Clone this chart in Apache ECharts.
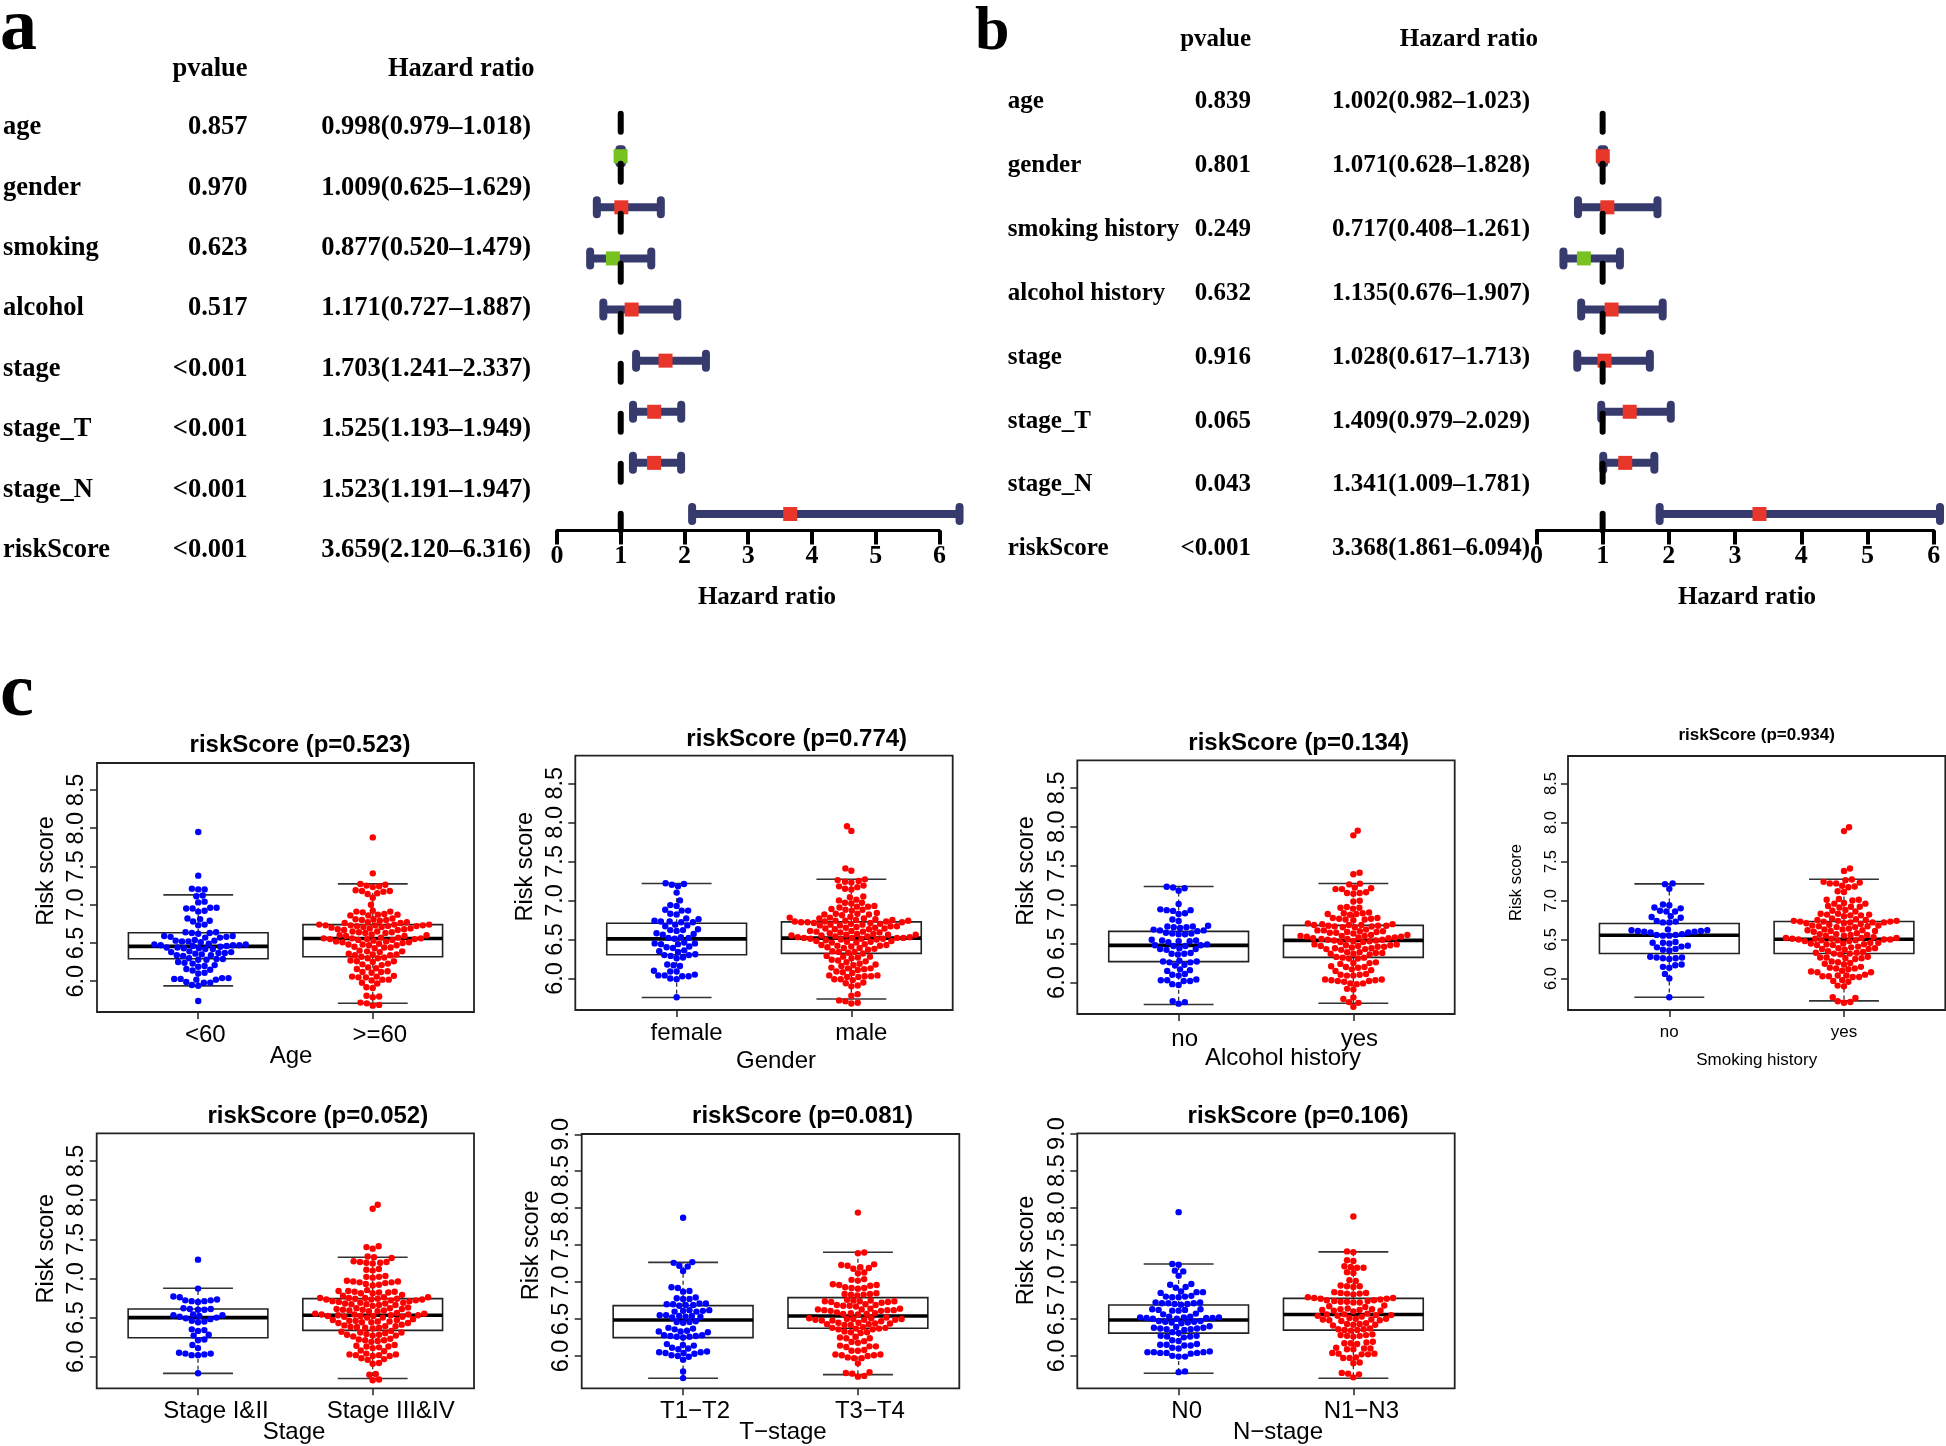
<!DOCTYPE html>
<html><head><meta charset="utf-8">
<script src="https://cdn.jsdelivr.net/npm/echarts@6/dist/echarts.min.js"></script>
<style>html,body{margin:0;padding:0;background:#fff}#c{width:1946px;height:1446px}</style>
</head><body><div id="c"></div><script>
// ---------------- DATA ----------------
// Forest plot a (univariate)
const varsA = ['age','gender','smoking','alcohol','stage','stage_T','stage_N','riskScore'];
const pvalA = ['0.857','0.970','0.623','0.517','<0.001','<0.001','<0.001','<0.001'];
const hrA = [0.998, 1.009, 0.877, 1.171, 1.703, 1.525, 1.523, 3.659];
const loA = [0.979, 0.625, 0.520, 0.727, 1.241, 1.193, 1.191, 2.120];
const hiA = [1.018, 1.629, 1.479, 1.887, 2.337, 1.949, 1.947, 6.316];
// Forest plot b (multivariate)
const varsB = ['age','gender','smoking history','alcohol history','stage','stage_T','stage_N','riskScore'];
const pvalB = ['0.839','0.801','0.249','0.632','0.916','0.065','0.043','<0.001'];
const hrB = [1.002, 1.071, 0.717, 1.135, 1.028, 1.409, 1.341, 3.368];
const loB = [0.982, 0.628, 0.408, 0.676, 0.617, 0.979, 1.009, 1.861];
const hiB = [1.023, 1.828, 1.261, 1.907, 1.713, 2.029, 1.781, 6.094];
const forestTicks = [0, 1, 2, 3, 4, 5, 6];

// Box plots
const boxTitles = ['riskScore (p=0.523)','riskScore (p=0.774)','riskScore (p=0.134)','riskScore (p=0.934)','riskScore (p=0.052)','riskScore (p=0.081)','riskScore (p=0.106)'];
const boxXNames = ['Age','Gender','Alcohol history','Smoking history','Stage','T\u2212stage','N\u2212stage'];
const boxCats = [['<60','>=60'],['female','male'],['no','yes'],['no','yes'],['Stage I&II','Stage III&IV'],['T1\u2212T2','T3\u2212T4'],['N0','N1\u2212N3']];
const yTicksShort = [6.0, 6.5, 7.0, 7.5, 8.0, 8.5];
const yTicksLong = [6.0, 6.5, 7.0, 7.5, 8.0, 8.5, 9.0];
// [lower whisker, Q1, median, Q3, upper whisker] per group
const statsAge = [[5.939,6.293,6.455,6.634,7.128],[5.712,6.319,6.559,6.739,7.272]];
const statsGender = [[5.758,6.305,6.508,6.708,7.216],[5.737,6.322,6.517,6.725,7.271]];
const statsAlcohol = [[5.718,6.269,6.478,6.657,7.233],[5.735,6.324,6.542,6.734,7.271]];
const statsSmoking = [[5.761,6.321,6.556,6.705,7.214],[5.714,6.321,6.504,6.731,7.274]];
const statsStage = [[5.787,6.243,6.499,6.610,6.875],[5.723,6.337,6.529,6.742,7.271]];
const statsT = [[5.698,6.248,6.487,6.681,7.267],[5.747,6.374,6.541,6.789,7.403]];
const statsN = [[5.765,6.307,6.483,6.686,7.240],[5.698,6.347,6.559,6.776,7.403]];

const ageLow = [7.95,7.38,7.21,7.20,7.20,7.12,7.11,7.04,7.03,6.96,6.96,6.95,6.95,6.92,6.91,6.82,6.81,6.79,6.78,6.74,6.73,
6.64,6.64,6.63,6.63,6.62,6.59,6.59,6.58,6.58,6.57,6.57,6.54,6.53,6.53,6.52,6.52,6.51,
6.49,6.48,6.48,6.47,6.47,6.47,6.46,6.46,6.45,6.44,6.44,6.43,6.43,6.42,6.42,
6.39,6.38,6.38,6.37,6.37,6.36,6.35,6.34,6.34,6.33,6.30,6.29,6.29,6.28,6.28,
6.25,6.24,6.23,6.21,6.20,6.19,6.16,6.15,6.14,6.11,6.10,6.04,6.04,6.03,6.03,6.02,6.02,5.99,5.98,5.98,5.95,5.94,5.74];
const ageHigh = [7.88,7.41,7.27,7.26,7.25,7.24,7.23,7.19,7.18,7.18,7.17,7.15,7.14,7.09,7.00,
6.92,6.91,6.91,6.90,6.88,6.87,6.87,6.86,6.86,6.82,6.81,6.81,6.80,6.80,6.79,6.77,6.77,6.76,6.76,
6.74,6.74,6.74,6.73,6.73,6.73,6.73,6.72,6.72,6.72,6.71,6.71,6.70,6.69,6.69,6.68,6.68,6.67,6.67,
6.65,6.65,6.64,6.64,6.63,6.63,6.61,6.60,6.60,6.59,6.59,
6.57,6.57,6.56,6.56,6.56,6.55,6.55,6.55,6.54,6.54,6.53,6.52,6.52,6.51,6.51,6.50,
6.49,6.48,6.48,6.47,6.47,6.45,6.44,6.44,6.43,6.40,6.39,6.39,6.38,6.36,6.35,6.35,6.34,6.34,
6.32,6.31,6.30,6.30,6.27,6.26,6.26,6.25,6.23,6.22,6.21,6.18,6.17,6.16,6.13,6.12,6.12,6.11,
6.07,6.06,6.06,6.05,6.05,6.02,6.02,6.01,5.98,5.97,5.92,5.91,5.81,5.80,5.79,5.72,5.71,5.69,5.68];
const genFemale = [7.22,7.21,7.20,7.18,7.10,7.00,6.94,6.93,6.88,6.87,6.87,6.83,6.82,6.77,6.76,
6.74,6.73,6.73,6.72,6.72,6.69,6.68,6.67,6.63,6.62,6.62,6.61,6.58,6.57,6.56,6.53,6.52,6.52,6.51,
6.46,6.45,6.45,6.44,6.44,6.41,6.40,6.39,6.36,6.35,6.34,6.31,6.30,6.30,6.29,6.27,6.26,
6.18,6.17,6.16,6.10,6.09,6.09,6.05,6.04,6.04,6.03,6.03,6.00,5.99,5.76];
const genMale = [7.95,7.89,7.41,7.38,7.27,7.26,7.25,7.24,7.23,7.19,7.18,7.17,7.15,7.14,7.05,7.04,7.01,7.00,
6.97,6.97,6.96,6.93,6.92,6.92,6.91,6.89,6.88,6.88,6.87,6.84,6.83,6.83,6.82,6.82,6.81,6.79,6.78,6.78,6.77,6.77,6.76,
6.75,6.75,6.74,6.74,6.74,6.73,6.73,6.73,6.72,6.72,6.72,6.71,6.71,6.70,6.70,6.69,6.69,6.68,6.68,6.67,6.67,
6.66,6.65,6.65,6.64,6.64,6.63,6.63,6.61,6.61,6.60,6.60,6.59,6.59,6.58,
6.57,6.57,6.56,6.56,6.56,6.55,6.55,6.54,6.54,6.53,6.53,6.52,6.52,6.52,6.52,6.51,6.51,6.51,6.50,6.50,
6.49,6.48,6.48,6.47,6.47,6.46,6.46,6.44,6.43,6.43,6.42,6.42,6.41,6.40,6.39,6.39,6.38,6.37,
6.35,6.34,6.34,6.33,6.32,6.29,6.28,6.28,6.27,6.26,6.24,6.23,6.22,6.21,6.19,6.18,6.17,6.16,
6.14,6.13,6.13,6.12,6.11,6.09,6.08,6.07,6.04,6.04,6.03,6.03,6.02,6.02,5.99,5.99,5.98,5.95,5.94,5.91,5.90,
5.80,5.78,5.72,5.71,5.69,5.68];
const alcNo = [7.23,7.22,7.21,7.18,7.01,6.94,6.93,6.93,6.92,6.89,6.88,6.81,6.79,
6.73,6.72,6.72,6.71,6.71,6.70,6.68,6.67,6.67,6.66,6.64,6.63,6.63,6.62,6.62,
6.55,6.54,6.54,6.53,6.53,6.52,6.49,6.48,6.48,6.47,6.47,6.44,6.43,6.43,6.42,6.38,6.37,6.37,6.36,
6.28,6.27,6.27,6.26,6.26,6.23,6.22,6.17,6.16,6.15,6.11,6.10,6.09,6.04,6.03,6.03,6.02,6.02,5.98,5.97,5.76,5.75,5.73];
const alcYes = [7.95,7.89,7.41,7.39,7.27,7.26,7.22,7.21,7.20,7.20,7.16,7.15,7.15,7.14,7.05,7.04,
6.97,6.96,6.96,6.95,6.90,6.89,6.89,6.88,6.88,6.87,6.83,6.83,6.82,6.82,6.81,6.81,6.80,
6.76,6.75,6.75,6.74,6.74,6.74,6.73,6.73,6.73,6.72,6.72,6.71,6.71,
6.68,6.67,6.67,6.66,6.66,6.65,6.65,6.64,6.64,6.63,6.61,6.61,6.60,6.60,6.60,6.59,6.59,6.58,6.58,6.57,6.57,
6.56,6.56,6.55,6.55,6.54,6.54,6.53,6.53,6.52,6.52,6.49,6.49,6.48,6.48,6.47,6.47,6.46,6.46,
6.45,6.44,6.44,6.43,6.43,6.42,6.39,6.39,6.38,6.38,6.37,6.37,6.36,6.33,6.32,6.32,6.31,6.31,
6.26,6.25,6.25,6.24,6.21,6.20,6.20,6.19,6.17,6.16,6.15,6.11,6.10,6.10,6.09,6.09,
6.04,6.04,6.03,6.03,6.02,6.02,6.01,5.99,5.99,5.98,5.92,5.91,5.81,5.79,5.75,5.74,5.69];
const smkNo = [7.22,7.21,7.15,6.95,6.94,6.91,6.90,6.87,6.86,6.86,6.80,6.79,6.78,6.74,6.73,6.72,6.72,
6.63,6.62,6.62,6.61,6.61,6.60,6.60,6.59,6.59,6.57,6.56,6.56,6.55,6.55,6.47,6.46,6.46,6.45,
6.42,6.41,6.40,6.38,6.37,6.36,6.28,6.27,6.27,6.26,6.26,6.25,6.18,6.17,6.15,6.14,6.06,6.00,5.76];
const smkYes = [7.94,7.89,7.41,7.38,7.27,7.26,7.24,7.23,7.22,7.22,7.19,7.18,7.17,7.12,7.11,7.02,7.01,7.01,7.00,
6.97,6.96,6.96,6.93,6.92,6.92,6.91,6.88,6.87,6.86,6.83,6.83,6.82,6.82,6.81,6.81,6.80,6.77,6.76,
6.75,6.75,6.74,6.74,6.74,6.73,6.73,6.73,6.72,6.72,6.72,6.71,6.71,6.70,6.69,6.68,6.68,6.67,6.67,6.66,6.66,
6.64,6.63,6.63,6.62,6.62,6.61,6.61,6.60,6.58,6.57,6.57,6.56,6.56,6.55,6.55,
6.53,6.52,6.52,6.52,6.51,6.51,6.51,6.50,6.50,6.50,6.49,6.49,6.49,6.48,6.48,
6.46,6.46,6.45,6.45,6.44,6.44,6.43,6.43,6.41,6.40,6.39,6.39,6.38,6.38,6.37,
6.35,6.34,6.33,6.33,6.32,6.32,6.31,6.28,6.27,6.27,6.26,6.26,6.25,6.22,6.21,6.20,6.19,6.18,
6.15,6.14,6.13,6.13,6.12,6.10,6.09,6.08,6.08,6.05,6.04,6.04,6.03,6.03,6.02,6.02,5.98,5.97,5.96,5.91,5.90,
5.76,5.75,5.71,5.70,5.69];
const stgLow = [7.24,6.87,6.77,6.76,6.73,6.72,6.72,6.71,6.71,6.70,6.62,6.61,6.61,6.60,6.60,
6.54,6.53,6.53,6.52,6.51,6.50,6.49,6.48,6.46,6.45,6.44,6.35,6.34,6.33,6.28,6.27,6.22,6.21,6.15,6.11,
6.05,6.04,6.04,6.03,6.02,6.02,5.79];
const stgHigh = [7.94,7.89,7.41,7.40,7.38,7.28,7.27,7.26,7.22,7.21,7.21,7.20,7.20,7.19,7.12,7.11,7.10,
7.03,7.02,7.02,7.01,6.97,6.96,6.96,6.95,6.95,6.94,6.93,6.92,6.91,
6.85,6.84,6.84,6.83,6.83,6.82,6.82,6.81,6.81,6.79,6.78,
6.76,6.76,6.75,6.75,6.75,6.74,6.74,6.74,6.73,6.73,6.73,6.72,6.72,6.71,6.71,6.70,
6.69,6.69,6.68,6.68,6.67,6.67,6.66,6.66,6.65,6.63,6.62,6.62,6.61,6.61,6.60,6.60,6.59,6.59,6.58,6.58,
6.56,6.55,6.55,6.54,6.54,6.54,6.53,6.53,6.53,6.52,6.52,6.52,6.51,6.51,6.50,6.50,
6.48,6.47,6.47,6.46,6.46,6.45,6.45,6.44,6.44,6.43,6.43,6.41,6.40,6.39,6.39,6.38,6.38,6.37,6.37,6.36,
6.33,6.32,6.31,6.31,6.30,6.29,6.28,6.28,6.27,6.27,6.26,6.23,6.22,6.21,6.21,6.20,6.19,
6.15,6.14,6.13,6.13,6.12,6.11,6.08,6.07,6.04,6.03,6.03,6.02,6.02,6.01,6.01,5.98,5.97,5.96,5.92,5.91,
5.78,5.77,5.71,5.70];
const tLow = [7.87,7.27,7.26,7.22,7.21,7.15,6.93,6.92,6.88,6.87,6.79,6.78,6.77,6.77,
6.71,6.71,6.70,6.70,6.69,6.69,6.68,6.62,6.62,6.61,6.61,6.60,6.60,6.55,6.55,6.54,6.54,6.53,6.53,6.52,
6.47,6.46,6.46,6.45,6.38,6.37,6.36,6.34,6.33,6.33,6.32,6.28,6.28,6.27,6.27,6.26,6.26,6.25,
6.16,6.15,6.14,6.11,6.10,6.09,6.06,6.05,6.05,6.04,6.04,6.03,6.01,6.00,5.99,5.95,5.79,5.70];
const tHigh = [7.94,7.40,7.39,7.24,7.23,7.22,7.20,7.19,7.18,7.13,7.12,7.04,7.03,7.02,
6.97,6.96,6.96,6.95,6.93,6.92,6.92,6.91,6.85,6.84,6.84,6.83,6.83,6.82,
6.76,6.75,6.75,6.74,6.74,6.74,6.73,6.73,6.72,6.70,6.69,6.69,6.68,6.68,6.67,
6.64,6.64,6.63,6.63,6.62,6.62,6.62,6.61,6.61,6.59,6.58,6.58,6.57,6.57,6.56,
6.52,6.51,6.51,6.50,6.50,6.50,6.49,6.49,6.49,6.48,6.48,6.47,6.45,6.45,6.44,6.44,6.43,6.43,6.42,6.42,
6.39,6.38,6.38,6.37,6.37,6.36,6.36,6.33,6.32,6.32,6.31,6.26,6.25,6.24,6.24,6.20,6.19,6.18,
6.14,6.13,6.13,6.12,6.08,6.07,6.07,6.02,6.02,6.01,6.01,6.00,5.98,5.97,5.97,5.90,5.78,5.77,5.76,5.73,5.72];
const nLow = [7.94,7.24,7.23,7.15,7.14,7.08,6.97,6.96,6.93,6.92,6.87,6.86,6.86,6.85,6.81,6.80,6.80,6.79,6.79,
6.72,6.72,6.71,6.71,6.71,6.70,6.70,6.69,6.63,6.63,6.62,6.62,6.61,6.61,6.57,6.56,
6.53,6.53,6.52,6.52,6.52,6.51,6.51,6.51,6.50,6.50,6.47,6.47,6.46,6.46,6.45,6.45,6.44,
6.40,6.39,6.38,6.38,6.37,6.37,6.36,6.36,6.35,6.32,6.31,6.27,6.27,6.26,6.26,6.25,6.21,6.20,
6.16,6.15,6.15,6.14,6.14,6.11,6.10,6.06,6.05,6.05,6.05,6.04,6.04,6.04,6.03,6.00,5.99,5.99,5.79,5.78];
const nHigh = [7.88,7.41,7.40,7.29,7.28,7.21,7.20,7.19,7.19,7.13,7.12,7.02,7.01,6.95,6.94,6.94,6.93,
6.86,6.85,6.85,6.84,6.84,6.83,6.79,6.78,6.78,6.77,6.77,6.76,6.75,6.75,6.74,6.74,6.73,6.73,6.72,6.72,
6.68,6.67,6.66,6.64,6.63,6.63,6.62,6.62,6.61,6.61,6.60,6.57,6.56,6.56,6.55,6.55,6.54,6.54,6.53,
6.51,6.50,6.50,6.49,6.49,6.48,6.48,6.47,6.44,6.43,6.43,6.42,6.42,6.41,6.37,6.36,6.36,6.35,6.35,6.34,
6.29,6.28,6.28,6.27,6.27,6.26,6.19,6.18,6.17,6.17,6.16,6.11,6.10,6.10,6.09,6.09,
6.04,6.03,6.03,6.02,6.02,5.98,5.97,5.97,5.91,5.90,5.77,5.76,5.75,5.71];

const boxStats = [statsAge, statsGender, statsAlcohol, statsSmoking, statsStage, statsT, statsN];
const boxValues = [[ageLow, ageHigh],[genFemale, genMale],[alcNo, alcYes],[smkNo, smkYes],[stgLow, stgHigh],[tLow, tHigh],[nLow, nHigh]];

// ---------------- LAYOUT ----------------
const SANS = '"Liberation Sans", Arial, Helvetica, sans-serif';
const SERIF = '"Liberation Serif", "Times New Roman", serif';
const boxLayout = [
  {left:97,   top:763,    width:377,   height:249,   ymin:5.597, ymax:8.853, fs:24, ts:24, tx:300,    ty:745,    yx:47,    yy:871,    xx:291,    xy:1056,   lm:11,   sh:7},
  {left:575.3,top:755.7,  width:377.4, height:254.3, ymin:5.597, ymax:8.853, fs:24, ts:24, tx:796.7,  ty:739.3,  yx:526,   yy:866.7,  xx:776,    xy:1061.7, lm:11,   sh:10},
  {left:1077.3,top:760.3, width:377.4, height:253.7, ymin:5.597, ymax:8.853, fs:24, ts:24, tx:1298.7, ty:743.3,  yx:1026.7,yy:871,    xx:1283,   xy:1058.3, lm:13,   sh:6},
  {left:1568, top:756,    width:377.3, height:254,   ymin:5.597, ymax:8.853, fs:17, ts:17, tx:1756.7, ty:735,    yx:1516,  yy:882.5,  xx:1756.7, xy:1060,   lm:13.5, sh:0},
  {left:96.7, top:1133.3, width:377.3, height:255,   ymin:5.597, ymax:8.853, fs:24, ts:24, tx:317.8,  ty:1116.7, yx:46.7,  yy:1248.7, xx:294,    xy:1432.7, lm:11.4, sh:18},
  {left:581.7,top:1134,   width:377.6, height:254.3, ymin:5.562, ymax:9.004, fs:24, ts:24, tx:802.5,  ty:1116.7, yx:531.7, yy:1245.3, xx:783,    xy:1432.7, lm:11.4, sh:12},
  {left:1077.3,top:1133.3,width:377.4, height:255,   ymin:5.562, ymax:9.004, fs:24, ts:24, tx:1298,   ty:1116.7, yx:1026.7,yy:1250.5, xx:1278,   xy:1432.7, lm:11.4, sh:8}
];
const XMIN = 0.42, XMAX = 2.58;
const DOT = 6.4;

function swarmOffsets(vals, pxY, d) {
  const order = vals.map((v, i) => i).sort((a, b) => vals[a] - vals[b]);
  const placed = [];
  const out = new Array(vals.length);
  let flip = 1;
  for (const i of order) {
    const y = vals[i] * pxY;
    const near = placed.filter(p => Math.abs(p.y - y) < d);
    const cands = [0];
    for (const p of near) {
      const dx = Math.sqrt(d * d - (p.y - y) * (p.y - y));
      cands.push(p.x + dx, p.x - dx);
    }
    cands.sort((a, b) => (Math.abs(a) - Math.abs(b)) || (a - b) * flip);
    let chosen = 0;
    for (const c of cands) {
      if (near.every(p => (p.x - c) * (p.x - c) + (p.y - y) * (p.y - y) >= d * d - 0.01)) { chosen = c; break; }
    }
    flip = -flip;
    placed.push({x: chosen, y: y});
    out[i] = chosen;
  }
  return out;
}

function txt(text, x, y, font, align, valign, rot) {
  return {type: 'text', x: x, y: y, rotation: rot || 0, silent: true,
    style: {text: text, font: font, fill: '#000', align: align, verticalAlign: valign, textAlign: align, textVerticalAlign: valign}};
}

const grids = [], xAxes = [], yAxes = [], series = [], graphics = [];

// ---------- Forest plots ----------
const forestCfg = [
  {vars: varsA, p: pvalA, hr: hrA, lo: loA, hi: hiA, left: 557, width: 382.4, fs: 26.5,
   labX: 3, pX: 247.5, hrX: 531, rowY0: 127.3, rowDy: 60.44, hdrY: 69, hdrPX: 247.5, hdrHX: 534.4, xlabX: 767,
   letter: 'a', letX: 0, letY: 30.2, letFs: 74},
  {vars: varsB, p: pvalB, hr: hrB, lo: loB, hi: hiB, left: 1536.4, width: 397.4, fs: 25,
   labX: 1007.7, pX: 1251, hrX: 1530, rowY0: 102, rowDy: 63.83, hdrY: 40, hdrPX: 1251, hdrHX: 1538, xlabX: 1747,
   letter: 'b', letX: 975, letY: 33, letFs: 62}
];
const FY0 = 0.675, FY1 = 8.89;
forestCfg.forEach((f, gi) => {
  grids.push({left: f.left, top: 110.7, width: f.width, height: 419.9, show: false, outerBoundsMode: 'none'});
  xAxes.push({gridIndex: gi, type: 'value', min: 0, max: 6, interval: 1,
    axisLine: {show: true, lineStyle: {color: '#000', width: 3}},
    axisTick: {show: true, length: 14, lineStyle: {color: '#000', width: 4}},
    axisLabel: {show: true, margin: 13, color: '#000', fontFamily: SERIF, fontWeight: 'bold', fontSize: 26},
    splitLine: {show: false}});
  yAxes.push({gridIndex: gi, type: 'value', min: FY0, max: FY1, show: false});
  const n = f.vars.length;
  series.push({type: 'line', xAxisIndex: gi, yAxisIndex: gi, symbol: 'none', silent: true, z: 3,
    data: [[1, FY1 - 0.06], [1, FY0]],
    lineStyle: {color: '#000', width: 6, type: [18, 32], cap: 'round'}});
  series.push({type: 'custom', xAxisIndex: gi, yAxisIndex: gi, z: 2, silent: true, clip: false,
    encode: {x: [1, 2, 3], y: 0},
    data: f.vars.map((v, i) => [n - i, f.hr[i], f.lo[i], f.hi[i]]),
    renderItem: function (params, api) {
      const y = api.value(0), hr = api.value(1), lo = api.value(2), hi = api.value(3);
      const a = api.coord([lo, y]), b = api.coord([hi, y]), c = api.coord([hr, y]);
      const navy = '#363a6c';
      return {type: 'group', children: [
        {type: 'line', shape: {x1: a[0], y1: a[1], x2: b[0], y2: b[1]}, style: {stroke: navy, lineWidth: 8, lineCap: 'butt'}},
        {type: 'line', shape: {x1: a[0], y1: a[1] - 7, x2: a[0], y2: a[1] + 7}, style: {stroke: navy, lineWidth: 8, lineCap: 'round'}},
        {type: 'line', shape: {x1: b[0], y1: b[1] - 7, x2: b[0], y2: b[1] + 7}, style: {stroke: navy, lineWidth: 8, lineCap: 'round'}},
        {type: 'rect', z2: 10, shape: {x: c[0] - 7, y: c[1] - 7, width: 14, height: 14}, style: {fill: hr > 1 ? '#e8362a' : '#77c21f'}}
      ]};
    }});
  const font = 'bold ' + f.fs + 'px ' + SERIF;
  graphics.push(txt('pvalue', f.hdrPX, f.hdrY, font, 'right', 'middle'));
  graphics.push(txt('Hazard ratio', f.hdrHX, f.hdrY, font, 'right', 'middle'));
  f.vars.forEach((v, i) => {
    const y = f.rowY0 + i * f.rowDy;
    graphics.push(txt(v, f.labX, y, font, 'left', 'middle'));
    graphics.push(txt(f.p[i], f.pX, y, font, 'right', 'middle'));
    graphics.push(txt(f.hr[i].toFixed(3) + '(' + f.lo[i].toFixed(3) + '\u2013' + f.hi[i].toFixed(3) + ')', f.hrX, y, font, 'right', 'middle'));
  });
  graphics.push(txt('Hazard ratio', f.xlabX, 598, 'bold 25px ' + SERIF, 'center', 'middle'));
  graphics.push(txt(f.letter, f.letX, f.letY, 'bold ' + f.letFs + 'px ' + SERIF, 'left', 'middle'));
});
graphics.push(txt('c', 0, 695, 'bold 76px ' + SERIF, 'left', 'middle'));

// ---------- Box plots ----------
boxLayout.forEach((L, k) => {
  const gi = 2 + k;
  grids.push({left: L.left, top: L.top, width: L.width, height: L.height, show: true,
    borderColor: '#222', borderWidth: 1.8, backgroundColor: 'transparent', outerBoundsMode: 'none'});
  const cats = boxCats[k];
  xAxes.push({gridIndex: gi, type: 'value', min: XMIN, max: XMAX,
    axisLine: {show: false},
    axisTick: {show: true, customValues: [1, 2], length: 7, lineStyle: {color: '#222', width: 1.5}},
    axisLabel: {show: true, customValues: [1, 2], margin: L.lm, color: '#000', fontFamily: SANS, fontSize: L.fs,
      padding: [0, 0, 0, 2 * L.sh], formatter: v => cats[Math.round(v) - 1]},
    splitLine: {show: false}});
  const ticks = L.ymax > 9 ? yTicksLong : yTicksShort;
  yAxes.push({gridIndex: gi, type: 'value', min: L.ymin, max: L.ymax,
    axisLine: {show: false},
    axisTick: {show: true, customValues: ticks, length: 7, lineStyle: {color: '#222', width: 1.5}},
    axisLabel: {show: true, customValues: ticks, rotate: 90, margin: 8, color: '#000', fontFamily: SANS, fontSize: L.fs - 0.5,
      formatter: v => Number(v).toFixed(1)},
    splitLine: {show: false}});
  const st = boxStats[k];
  series.push({type: 'custom', xAxisIndex: gi, yAxisIndex: gi, z: 2, silent: true,
    encode: {x: 0, y: [1, 2, 3, 4, 5]},
    data: st.map((s, i) => [i + 1].concat(s)),
    renderItem: function (params, api) {
      const pos = api.value(0), lo = api.value(1), q1 = api.value(2), med = api.value(3), q3 = api.value(4), hi = api.value(5);
      const tl = api.coord([pos - 0.4, q3]), br = api.coord([pos + 0.4, q1]);
      const m = api.coord([pos, med]), H = api.coord([pos, hi]), Lo = api.coord([pos, lo]);
      const cl = api.coord([pos - 0.2, hi])[0], cr = api.coord([pos + 0.2, hi])[0];
      return {type: 'group', children: [
        {type: 'line', shape: {x1: H[0], y1: tl[1], x2: H[0], y2: H[1]}, style: {stroke: '#333', lineWidth: 1.3, lineDash: [4, 3]}},
        {type: 'line', shape: {x1: H[0], y1: br[1], x2: H[0], y2: Lo[1]}, style: {stroke: '#333', lineWidth: 1.3, lineDash: [4, 3]}},
        {type: 'line', shape: {x1: cl, y1: H[1], x2: cr, y2: H[1]}, style: {stroke: '#333', lineWidth: 1.6}},
        {type: 'line', shape: {x1: cl, y1: Lo[1], x2: cr, y2: Lo[1]}, style: {stroke: '#333', lineWidth: 1.6}},
        {type: 'rect', shape: {x: tl[0], y: tl[1], width: br[0] - tl[0], height: br[1] - tl[1]}, style: {fill: 'none', stroke: '#222', lineWidth: 1.6}},
        {type: 'line', shape: {x1: tl[0], y1: m[1], x2: br[0], y2: m[1]}, style: {stroke: '#000', lineWidth: 3.6}}
      ]};
    }});
  const pxY = L.height / (L.ymax - L.ymin);
  const pxX = L.width / (XMAX - XMIN);
  boxValues[k].forEach((vals, gIdx) => {
    const offs = swarmOffsets(vals, pxY, DOT);
    series.push({type: 'scatter', xAxisIndex: gi, yAxisIndex: gi, z: 4, silent: true,
      symbol: 'circle', symbolSize: DOT,
      itemStyle: {color: gIdx === 0 ? '#0000ff' : '#ff0000', opacity: 1},
      data: vals.map((v, i) => [gIdx + 1 + offs[i] / pxX, v])});
  });
  graphics.push(txt(boxTitles[k], L.tx, L.ty, 'bold ' + L.ts + 'px ' + SANS, 'center', 'middle'));
  graphics.push(txt('Risk score', L.yx, L.yy, (L.fs - 0.5) + 'px ' + SANS, 'center', 'middle', Math.PI / 2));
  graphics.push(txt(boxXNames[k], L.xx, L.xy, L.fs + 'px ' + SANS, 'center', 'middle'));
});

const chart = echarts.init(document.getElementById('c'), null, {renderer: 'canvas'});
chart.setOption({
  animation: false,
  backgroundColor: '#fff',
  grid: grids, xAxis: xAxes, yAxis: yAxes, series: series,
  graphic: {elements: graphics}
});
</script></body></html>
